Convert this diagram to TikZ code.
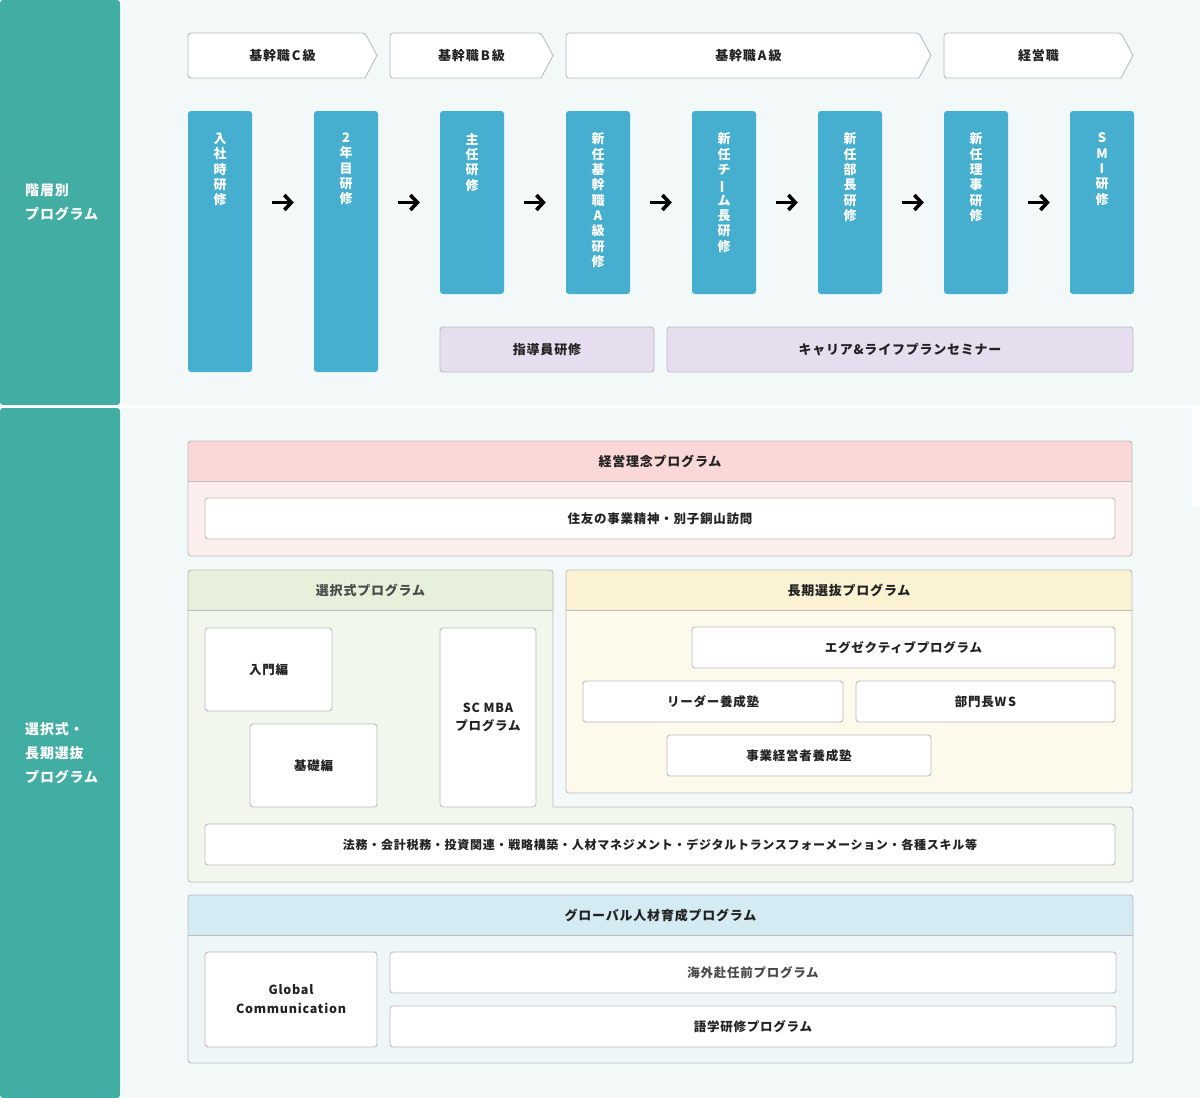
\documentclass[tikz,border=0pt]{standalone}
\usepackage{fontspec}
\setmainfont{Noto Sans CJK JP}[LetterSpace=6]
\usetikzlibrary{positioning,arrows.meta}
\definecolor{sideteal}{HTML}{42ADA3}
\definecolor{panelbg}{HTML}{F3F8F8}
\definecolor{stepblue}{HTML}{46AFD0}
\definecolor{seminar}{HTML}{E6DEEF}
\definecolor{linegray}{HTML}{BDBDBD}
\definecolor{inkdark}{HTML}{222222}
\definecolor{inksoft}{HTML}{4A4A4A}
\definecolor{pinkhead}{HTML}{FAD8D8}
\definecolor{pinkbody}{HTML}{FDEEEE}
\definecolor{greenhead}{HTML}{E6F0DA}
\definecolor{greenbody}{HTML}{F2F7EE}
\definecolor{yellowhead}{HTML}{FBF2D3}
\definecolor{yellowbody}{HTML}{FDF9EB}
\definecolor{bluehead}{HTML}{D4EBF3}
\definecolor{bluebody}{HTML}{EEF6F8}
\begin{document}
\begin{tikzpicture}[x=1pt,y=-1pt,
    sidelabel/.style={anchor=west, align=left, text=white, inner sep=0,
      font=\bfseries\fontsize{14}{24}\selectfont},
    tag/.style={draw=linegray, fill=white, line width=0.9pt},
    taglabel/.style={inner sep=0, text=inkdark, font=\bfseries\fontsize{13}{15}\selectfont},
    stepbox/.style={fill=stepblue, rounded corners=3, minimum width=64, inner sep=0},
    vlabel/.style={anchor=north, align=center, text=white, inner sep=0,
      font=\bfseries\fontsize{13}{15.3}\selectfont},
    flow/.style={-{Straight Barb[length=7pt,width=15pt]}, line width=3.6pt,
      shorten <=20pt, shorten >=20pt},
    seminarbox/.style={draw=linegray, fill=seminar, rounded corners=3, line width=0.9pt,
      minimum height=45, inner sep=0, text=inkdark, font=\bfseries\fontsize{13}{15}\selectfont},
    frame/.style={draw=linegray, line width=0.9pt, rounded corners=3},
    headlabel/.style={inner sep=0, text=inkdark, font=\bfseries\fontsize{13}{15}\selectfont},
    wbox/.style={draw=linegray, fill=white, rounded corners=3, line width=0.9pt, inner sep=0,
      align=center, text=inkdark, font=\bfseries\fontsize{12.5}{18}\selectfont},
  ]
  \useasboundingbox (0,0) rectangle (1200,1098);

  % side bars and panels
  \fill[sideteal, rounded corners=3] (0,0) rectangle (120,405);
  \fill[sideteal, rounded corners=3] (0,408) rectangle (120,1098);
  \fill[panelbg, rounded corners=3] (122,0) rectangle (1200,405);
  \fill[panelbg] (122,408) -- (1192,408) -- (1192,507) -- (1200,507) -- (1200,1098) -- (122,1098) -- cycle;
  \node[sidelabel] (kaiso) at (25,202) {階層別\\プログラム};
  \node[sidelabel] (sentaku) at (25,753) {選択式・\\長期選抜\\プログラム};

  % grade tags
  \draw[tag] (377,55.5) -- (365,78) [rounded corners=3] -- (188,78) -- (188,33) -- (365,33) [sharp corners] -- cycle;
  \draw[tag] (553,55.5) -- (541,78) [rounded corners=3] -- (390,78) -- (390,33) -- (541,33) [sharp corners] -- cycle;
  \draw[tag] (931,55.5) -- (919,78) [rounded corners=3] -- (566,78) -- (566,33) -- (919,33) [sharp corners] -- cycle;
  \draw[tag] (1133,55.5) -- (1121,78) [rounded corners=3] -- (944,78) -- (944,33) -- (1121,33) [sharp corners] -- cycle;
  \node[taglabel] (gc) at (282.5,55.5) {基幹職\hspace{2pt}C\hspace{2pt}級};
  \node[taglabel] (gb) at (471.5,55.5) {基幹職\hspace{2pt}B\hspace{2pt}級};
  \node[taglabel] (ga) at (748.5,55.5) {基幹職\hspace{2pt}A\hspace{2pt}級};
  \node[taglabel] (gm) at (1038.5,55.5) {経営職};

  % training steps
  \node[stepbox, minimum height=261] (s1) at (220,241.5) {};
  \node[stepbox, minimum height=261] (s2) at (346,241.5) {};
  \node[stepbox, minimum height=183] (s3) at (472,202.5) {};
  \node[stepbox, minimum height=183] (s4) at (598,202.5) {};
  \node[stepbox, minimum height=183] (s5) at (724,202.5) {};
  \node[stepbox, minimum height=183] (s6) at (850,202.5) {};
  \node[stepbox, minimum height=183] (s7) at (976,202.5) {};
  \node[stepbox, minimum height=183] (s8) at (1102,202.5) {};
  \node[vlabel, below=22pt of s1.north] (t1) {入\\社\\時\\研\\修};
  \node[vlabel, below=22pt of s2.north] (t2) {2\\年\\目\\研\\修};
  \node[vlabel, below=22pt of s3.north] (t3) {主\\任\\研\\修};
  \node[vlabel, below=22pt of s4.north] (t4) {新\\任\\基\\幹\\職\\A\\級\\研\\修};
  \node[vlabel, below=22pt of s5.north] (t5) {新\\任\\チ\\\rotatebox[origin=c]{90}{ー}\\ム\\長\\研\\修};
  \node[vlabel, below=22pt of s6.north] (t6) {新\\任\\部\\長\\研\\修};
  \node[vlabel, below=22pt of s7.north] (t7) {新\\任\\理\\事\\研\\修};
  \node[vlabel, below=22pt of s8.north] (t8) {S\\M\\I\\研\\修};
  \draw[flow] (s1.east |- s3.center) -- (s2.west |- s3.center);
  \draw[flow] (s2.east |- s3.center) -- (s3.west);
  \draw[flow] (s3.east) -- (s4.west);
  \draw[flow] (s4.east) -- (s5.west);
  \draw[flow] (s5.east) -- (s6.west);
  \draw[flow] (s6.east) -- (s7.west);
  \draw[flow] (s7.east) -- (s8.west);

  \node[seminarbox, minimum width=214] (shido) at (547,349.5) {指導員研修};
  \node[seminarbox, minimum width=466] (career) at (900,349.5) {キャリア\&ライフプランセミナー};

  % 経営理念
  \fill[pinkbody, rounded corners=3] (188,441) rectangle (1132,556);
  \fill[pinkhead, rounded corners=3] (188,481) -- (188,441) -- (1132,441) [sharp corners] -- (1132,481) -- cycle;
  \draw[linegray, line width=0.9pt] (188,481) -- (1132,481);
  \draw[frame] (188,441) rectangle (1132,556);
  \node[headlabel] (rinen) at (660,461) {経営理念プログラム};
  \node[wbox, minimum width=910, minimum height=41] (seishin) at (660,518.5) {住友の事業精神・別子銅山訪問};

  % 選択式
  \fill[greenbody, rounded corners=3] (188,570) -- (553,570) [sharp corners] -- (553,807) [rounded corners=3] -- (1133,807) -- (1133,882) -- (188,882) -- cycle;
  \fill[greenhead, rounded corners=3] (188,610) -- (188,570) -- (553,570) [sharp corners] -- (553,610) -- cycle;
  \draw[linegray, line width=0.9pt] (188,610) -- (553,610);
  \draw[frame] (188,570) -- (553,570) [sharp corners] -- (553,807) [rounded corners=3] -- (1133,807) -- (1133,882) -- (188,882) -- cycle;
  \node[headlabel, text=inksoft] (sentakushiki) at (370.5,590) {選択式プログラム};
  \node[wbox, minimum width=127, minimum height=83] (nyumon) at (268.5,669.5) {入門編};
  \node[wbox, minimum width=127, minimum height=83] (kiso) at (313.5,765.5) {基礎編};
  \node[wbox, minimum width=96, minimum height=179] (mba) at (488,717.5) {SC MBA\\プログラム};
  \node[wbox, minimum width=910, minimum height=41, font=\bfseries\fontsize{12}{18}\selectfont] (skill) at (660,844.5) {法務・会計税務・投資関連・戦略構築・人材マネジメント・デジタルトランスフォーメーション・各種スキル等};

  % 長期選抜
  \fill[yellowbody, rounded corners=3] (566,570) rectangle (1132,793);
  \fill[yellowhead, rounded corners=3] (566,610) -- (566,570) -- (1132,570) [sharp corners] -- (1132,610) -- cycle;
  \draw[linegray, line width=0.9pt] (566,610) -- (1132,610);
  \draw[frame] (566,570) rectangle (1132,793);
  \node[headlabel] (choki) at (849,590) {長期選抜プログラム};
  \node[wbox, minimum width=423, minimum height=41] (exec) at (903.5,647.5) {エグゼクティブプログラム};
  \node[wbox, minimum width=260, minimum height=41] (leader) at (713,701.5) {リーダー養成塾};
  \node[wbox, minimum width=259, minimum height=41] (bumon) at (985.5,701.5) {部門長W\hspace{2pt}S};
  \node[wbox, minimum width=264, minimum height=41] (keiei) at (799,755.5) {事業経営者養成塾};

  % グローバル
  \fill[bluebody, rounded corners=3] (188,895) rectangle (1133,1063);
  \fill[bluehead, rounded corners=3] (188,935) -- (188,895) -- (1133,895) [sharp corners] -- (1133,935) -- cycle;
  \draw[linegray, line width=0.9pt] (188,935) -- (1133,935);
  \draw[frame] (188,895) rectangle (1133,1063);
  \node[headlabel] (global) at (660.5,915) {グローバル人材育成プログラム};
  \node[wbox, minimum width=172, minimum height=95, font=\bfseries\fontsize{12.5}{19}\selectfont] (gcomm) at (291,999.5) {Global\\Communication};
  \node[wbox, minimum width=726, minimum height=41, text=inksoft] (kaigai) at (753,972.5) {海外赴任前プログラム};
  \node[wbox, minimum width=726, minimum height=41] (gogaku) at (753,1026.5) {語学研修プログラム};
\end{tikzpicture}
\end{document}
